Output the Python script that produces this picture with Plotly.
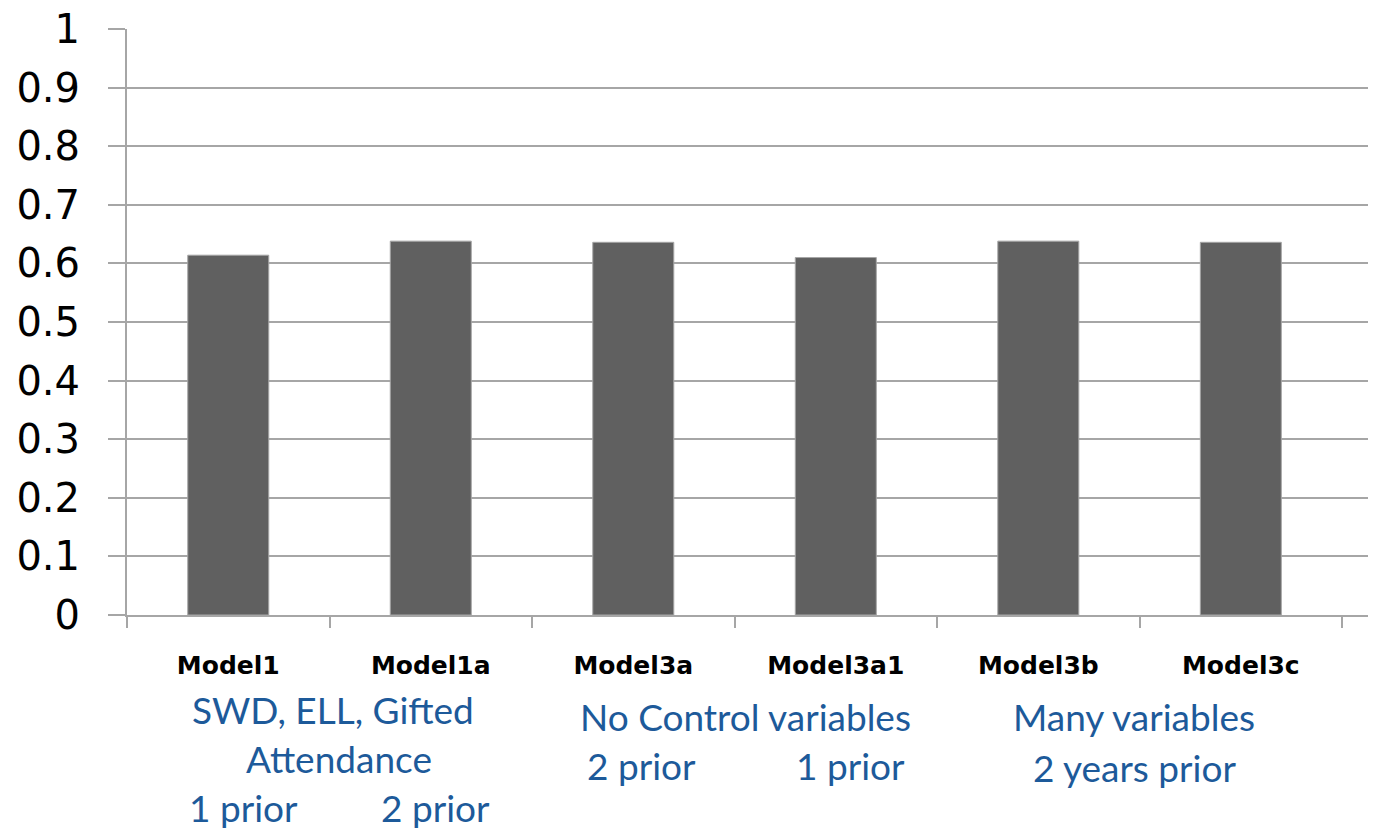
import plotly.graph_objects as go

# Model names and their scores
models = ["Model1", "Model1a", "Model3a", "Model3a1", "Model3b", "Model3c"]
scores = [0.614, 0.638, 0.636, 0.610, 0.638, 0.636]
y_ticks = [0, 0.1, 0.2, 0.3, 0.4, 0.5, 0.6, 0.7, 0.8, 0.9, 1]
y_tick_text = ["0", "0.1", "0.2", "0.3", "0.4", "0.5", "0.6", "0.7", "0.8", "0.9", "1"]

# Group descriptions written under the category labels
notes = [
    ("SWD, ELL, Gifted", 0.517, 709),
    ("Attendance", 0.547, 758),
    ("1 prior", 0.073, 807),
    ("2 prior", 1.021, 807),
    ("No Control variables", 2.552, 716),
    ("2 prior", 2.043, 765),
    ("1 prior", 3.075, 765),
    ("Many variables", 4.473, 716),
    ("2 years prior", 4.473, 767),
]

W, H = 1374, 832
M_L, M_R, M_T, M_B = 127, W - 1368, 23, H - 615

fig = go.Figure(
    go.Bar(
        x=models,
        y=scores,
        width=0.4,
        marker=dict(color="#606060", line=dict(color="#a6a6a6", width=1)),
    )
)

annotations = []
for text, xpos, ypix in notes:
    annotations.append(
        dict(
            text=text,
            x=xpos,
            xref="x",
            y=0,
            yref="paper",
            yanchor="middle",
            xanchor="center",
            yshift=-(ypix - 615),
            showarrow=False,
            font=dict(family="Lato", size=37, color="#1d5a9a"),
        )
    )

fig.update_layout(
    width=W,
    height=H,
    margin=dict(l=M_L, r=M_R, t=M_T, b=M_B, pad=0),
    paper_bgcolor="white",
    plot_bgcolor="white",
    showlegend=False,
    annotations=annotations,
)

fig.update_xaxes(
    type="category",
    range=[-0.5, 5.628],
    tickson="boundaries",
    ticks="outside",
    ticklen=11,
    tickcolor="#a6a6a6",
    tickwidth=2,
    showline=True,
    linecolor="#a6a6a6",
    linewidth=2,
    showgrid=False,
    tickfont=dict(family="DejaVu Sans", size=25, color="black", weight="bold"),
    ticklabelstandoff=27,
)

fig.update_yaxes(
    range=[0, 1],
    tickvals=y_ticks,
    ticktext=y_tick_text,
    ticks="outside",
    ticklen=17,
    tickcolor="#a6a6a6",
    tickwidth=2,
    showline=True,
    linecolor="#a6a6a6",
    linewidth=2,
    showgrid=True,
    gridcolor="#a6a6a6",
    gridwidth=2,
    zeroline=False,
    tickfont=dict(family="DejaVu Sans", size=40, color="black"),
    ticklabelstandoff=20,
)

fig.write_html("out.html")
